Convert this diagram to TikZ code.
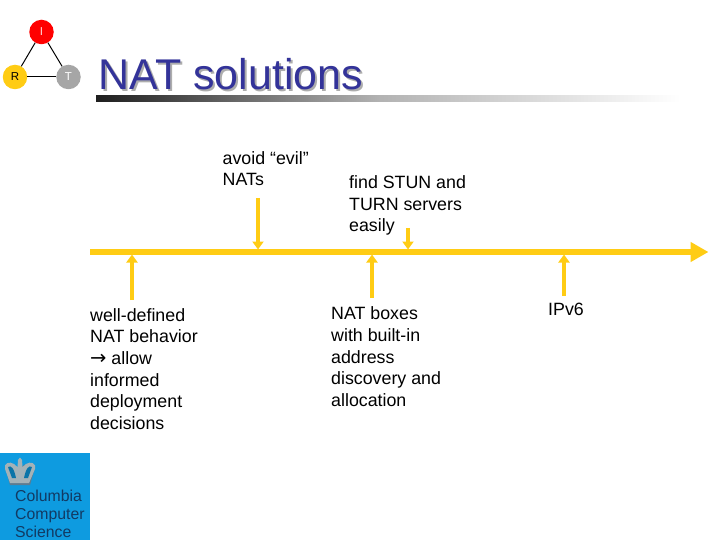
\documentclass[tikz,border=0pt]{standalone}
\usepackage{fontspec}
\setmainfont{Liberation Sans}
\usetikzlibrary{arrows.meta}
\definecolor{ygold}{HTML}{FFCC14}
\definecolor{titleblue}{HTML}{333399}
\definecolor{csblue}{HTML}{0E9BE0}
\definecolor{csnavy}{HTML}{123A63}
\definecolor{crowngrey}{HTML}{A3B2B8}
\definecolor{crowndark}{HTML}{5E7C90}
\tikzset{
  body/.style={anchor=north west,inner sep=0pt,align=left,text=black,
    font=\fontsize{17.8}{21.7}\selectfont},
  mainline/.style={draw=ygold,line width=5.5pt,-{Triangle[length=18pt,width=19pt]}},
  marker/.style={draw=ygold,line width=3.4pt,-{Triangle[length=8pt,width=11pt]}},
  vertex/.style={circle,minimum size=24.5pt,inner sep=0pt,font=\fontsize{11.5}{11.5}\selectfont},
  tie/.style={draw=black,line width=1pt},
  titletext/.style={anchor=base west,inner sep=0pt,font=\fontsize{43}{43}\selectfont},
  cstext/.style={anchor=north west,inner sep=0pt,align=left,text=csnavy,
    font=\fontsize{15.8}{18}\selectfont}
}
\begin{document}
\begin{tikzpicture}[x=1pt,y=-1pt]
\useasboundingbox (0,0) rectangle (720,540);
% logo
\node[vertex,fill=red,text=white!85!red] (vi) at (41.5,32) {I};
\node[vertex,fill=ygold] (vr) at (15,77) {R};
\node[vertex,fill=black!35,text=white] (vt) at (68.5,77) {T};
\draw[tie] (vi) -- (vr);
\draw[tie] (vi) -- (vt);
\draw[tie] (vr) -- (vt);
% title
\node[titletext,text=black!32] (titleshadow) at (100.5,91.5) {NAT solutions};
\node[titletext,text=titleblue] (title) at (98.5,90) {NAT solutions};
% gradient rule
\shade[left color=black!88,right color=black!30] (96,96) rectangle (380,102);
\shade[left color=black!30,right color=white] (380,96) rectangle (680,102);
% timeline
\coordinate (tstart) at (90,252);
\coordinate (tend) at (708.5,252);
\draw[mainline] (tstart) -- (tend);
\coordinate (a1) at (132,300); \coordinate (a1e) at (132,254.5);
\coordinate (a2) at (258,198); \coordinate (a2e) at (258,249.5);
\coordinate (a3) at (408,228); \coordinate (a3e) at (408,249.5);
\coordinate (a4) at (372,298); \coordinate (a4e) at (372,254.5);
\coordinate (a5) at (564,296); \coordinate (a5e) at (564,254.5);
\draw[marker] (a1) -- (a1e);
\draw[marker] (a2) -- (a2e);
\draw[marker] (a3) -- (a3e);
\draw[marker] (a4) -- (a4e);
\draw[marker] (a5) -- (a5e);
% labels
\node[body] (t1) at (90,308) {well-defined\\NAT behavior\\{\fontspec{DejaVu Sans}\fontsize{19.5}{21.7}\selectfont →} allow\\informed\\deployment\\decisions};
\node[body] (t2) at (222.5,151) {avoid “evil”\\NATs};
\node[body] (t3) at (349,175.5) {find STUN and\\TURN servers\\easily};
\node[body] (t4) at (331,306.5) {NAT boxes\\with built-in\\address\\discovery and\\allocation};
\node[body] (t5) at (548,302.5) {IPv6};
% Columbia block
\fill[csblue] (0,453) rectangle (90,540);
\fill[crowndark] (6,470) .. controls (4,464) and (10,462) .. (14,465) -- (19,469) -- (24,465)
  .. controls (29,462) and (35,464) .. (34,471) -- (30,485) -- (10,485) -- cycle;
\fill[crowngrey] (5,469) .. controls (3,463) and (10,461) .. (14,464) -- (17.5,467) -- (18,460) -- (20,457.5) -- (22,460) -- (22.5,467) -- (26,464)
  .. controls (30,461) and (37,463) .. (35,469) -- (29,483) -- (10,483) -- cycle;
\fill[csblue!75!black] (8,467) .. controls (11,465) and (14,468) .. (16,478) -- (12,478) -- cycle;
\fill[csblue!75!black] (32,467) .. controls (29,465) and (26,468) .. (24,478) -- (28,478) -- cycle;
\node[cstext] (cs) at (15,490) {Columbia\\Computer\\Science};
\end{tikzpicture}
\end{document}
